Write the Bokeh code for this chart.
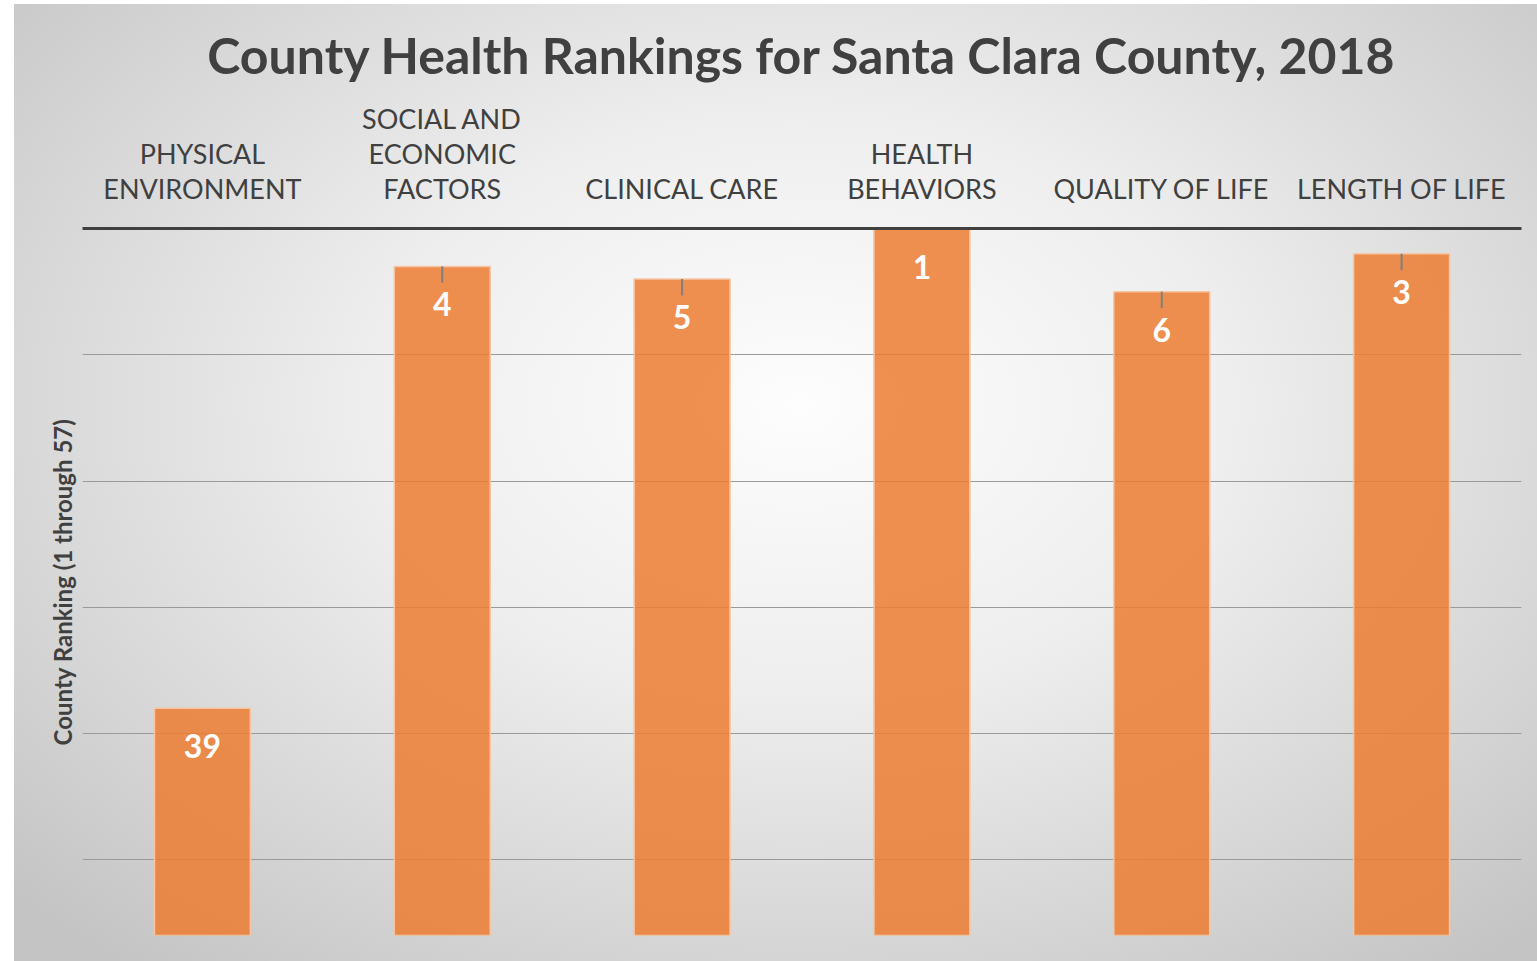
from bokeh.plotting import figure
from bokeh.models import Range1d, FixedTicker, ColumnDataSource, InlineStyleSheet
from bokeh.core.properties import value
from bokeh.embed import file_html
from bokeh.resources import INLINE

# ---- data ----
categories = ["PHYSICAL\nENVIRONMENT", "SOCIAL AND\nECONOMIC\nFACTORS", "CLINICAL CARE",
              "HEALTH\nBEHAVIORS", "QUALITY OF LIFE", "LENGTH OF LIFE"]
ranks = [39, 4, 5, 1, 6, 3]
whisker = [0, 1.3, 1.3, 0, 1.3, 1.3]
n_counties = 57
grid_ticks = [11, 21, 31, 41, 51]
title_text = "County Health Rankings for Santa Clara County, 2018"
y_label = "County Ranking (1 through 57)"

src = ColumnDataSource(dict(
    cat=categories, rank=ranks, base=[n_counties] * len(ranks),
    wend=[r + w for r, w in zip(ranks, whisker)],
    lbl=[str(r) for r in ranks],
))

p = figure(x_range=categories, y_range=Range1d(n_counties, 1),
           width=1537, height=961, output_backend="svg", toolbar_location=None,
           x_axis_location="above", title=title_text,
           min_border_left=82, min_border_right=16, min_border_top=228, min_border_bottom=26)

p.background_fill_color = None
p.border_fill_color = None
p.outline_line_color = None
p.stylesheets = [InlineStyleSheet(css=":host { background: radial-gradient(ellipse 70% 75% at 52% 42%, #fdfdfd 0%, #eeeeee 40%, #d6d6d6 75%, #c4c4c4 100%); box-shadow: inset 14px 4px 0 0 #ffffff; }")]

# title
p.title.align = "center"
p.title.text_font = "Lato"
p.title.text_font_style = "bold"
p.title.text_font_size = "50px"
p.title.text_color = "#404040"
p.title.standoff = 30

# top categorical axis
xa = p.xaxis[0]
xa.axis_line_width = 3
xa.axis_line_color = "#404040"
xa.major_tick_line_color = None
xa.minor_tick_line_color = None
xa.major_label_text_font = "Lato"
xa.major_label_text_font_size = "27px"
xa.major_label_text_color = "#404040"
xa.major_label_text_line_height = 1.05
xa.major_label_standoff = 18
xa.major_label_orientation = "horizontal"

# y axis: title only, gridlines from their own ticker
ya = p.yaxis[0]
ya.ticker = FixedTicker(ticks=[])
ya.major_tick_line_color = None
ya.minor_tick_line_color = None
ya.axis_line_color = None
ya.axis_label = y_label
ya.axis_label_text_font = "Lato"
ya.axis_label_text_font_style = "bold"
ya.axis_label_text_font_size = "24px"
ya.axis_label_text_color = "#404040"
ya.axis_label_standoff = 6

p.xgrid.grid_line_color = None
p.ygrid.ticker = FixedTicker(ticks=grid_ticks)
p.ygrid.grid_line_color = "#9a9a9a"
p.ygrid.grid_line_width = 1.2

p.vbar(x="cat", top="rank", bottom="base", width=0.4, source=src,
       fill_color="#ED7D31", fill_alpha=0.85, line_color="#f6c6a4", line_width=1.5)

p.segment(x0="cat", y0="rank", x1="cat", y1="wend", source=src,
          line_color="#7f7f7f", line_width=2)

p.text(x="cat", y="rank", text="lbl", source=src, y_offset=38,
       text_align="center", text_baseline="middle", text_color="white",
       text_font=value("Lato"), text_font_style="bold", text_font_size="32px")

open("out.html", "w").write(file_html(p, INLINE))
